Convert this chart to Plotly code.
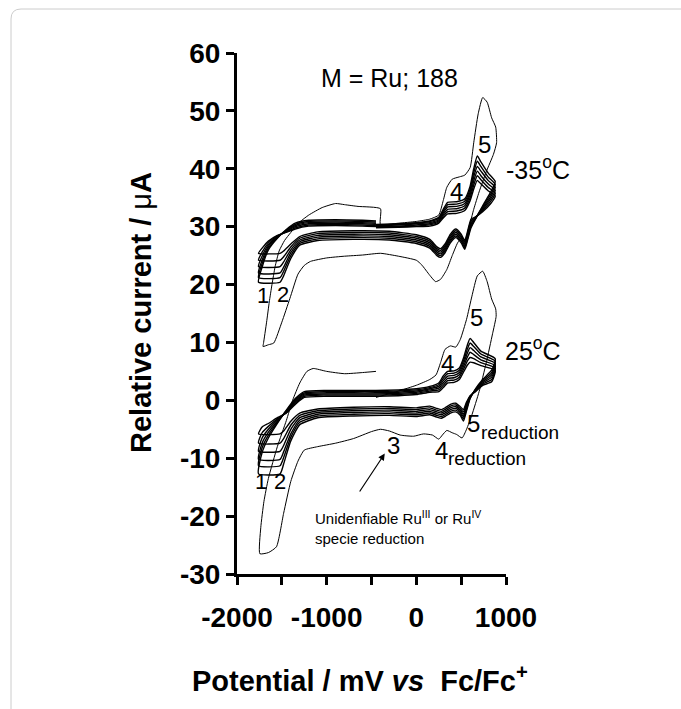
import plotly.graph_objects as go

# ---------------- data (potential in mV vs Fc/Fc+, current in uA) ----------------
# -35 C, first cycle (outermost loop)
E_C1_35 = [-400, -200, 0, 150, 250, 300, 340, 400, 480, 540, 600, 640, 690, 740, 790, 840, 885, 895,
           860, 780, 700, 640, 590, 550, 510, 460, 400, 340, 270, 215, 150, 60, 0, -200, -400, -600,
           -800, -1000, -1180, -1250, -1320, -1410, -1500, -1590, -1650, -1710,
           -1705, -1670, -1640, -1610, -1575, -1530, -1470, -1400, -1300, -1200, -1050, -900, -800,
           -650, -400, -400]
I_C1_35 = [30.4, 30.6, 30.9, 31.3, 32.0, 34.5, 36.8, 38.2, 38.6, 38.9, 40.2, 44.5, 49.5, 52.3, 51.5, 48.8, 47.2, 44.5,
           42.5, 39.5, 36.0, 33.0, 30.0, 27.6, 28.2, 27.2, 25.0, 22.6, 20.9, 20.5, 21.6, 23.4, 24.2, 24.9, 25.4, 25.1,
           24.9, 24.6, 24.0, 23.3, 21.8, 17.6, 13.5, 9.9, 9.6, 9.3,
           9.8, 13.5, 17.0, 20.0, 23.1, 25.8, 27.6, 29.0, 30.8, 32.0, 33.3, 34.0, 33.8,
           33.5, 33.1, 30.4]

# -35 C, following cycles (common potential grid)
E_BAND_35 = [-450, -200, 0, 150, 250, 300, 350, 450, 540, 600, 640, 680, 720, 800, 880,
             830, 740, 660, 610, 570, 540, 500, 440, 380, 320, 270, 230, 150, 0, -300, -700, -1100,
             -1300, -1400, -1480, -1520, -1760,
             -1720, -1650, -1550, -1450, -1350, -1200, -900, -600, -450]
I35_CYC2 = [30.4, 30.5, 30.7, 31.0, 31.6, 33.0, 34.2, 34.3, 34.8, 37.0, 40.0, 42.2, 41.2, 39.3, 37.8,
            36.0, 33.6, 31.3, 29.8, 27.6, 26.1, 27.2, 28.1, 27.2, 25.5, 24.7, 25.0, 26.3, 27.1, 27.7, 27.8, 27.6,
            26.8, 24.5, 21.5, 20.4, 20.4,
            23.0, 26.0, 28.0, 29.5, 30.6, 31.1, 31.2, 31.1, 31.0]
I35_CYC3 = [30.3, 30.4, 30.6, 30.9, 31.4, 32.7, 33.8, 33.9, 34.4, 36.5, 39.3, 41.3, 40.4, 38.6, 37.3,
            35.6, 33.4, 31.4, 30.1, 27.9, 26.4, 27.5, 28.4, 27.5, 25.8, 25.0, 25.3, 26.6, 27.4, 28.0, 28.1, 27.9,
            27.1, 25.0, 22.3, 21.2, 21.2,
            23.6, 26.3, 28.1, 29.4, 30.4, 30.9, 31.0, 30.9, 30.8]
I35_CYC4 = [30.2, 30.3, 30.5, 30.7, 31.2, 32.4, 33.4, 33.5, 34.0, 36.0, 38.6, 40.4, 39.6, 38.0, 36.8,
            35.2, 33.2, 31.5, 30.4, 28.2, 26.7, 27.8, 28.7, 27.8, 26.1, 25.3, 25.6, 26.9, 27.7, 28.3, 28.4, 28.2,
            27.4, 25.5, 23.0, 22.0, 22.0,
            24.2, 26.6, 28.2, 29.3, 30.2, 30.7, 30.8, 30.7, 30.6]
I35_CYC5 = [30.0, 30.1, 30.3, 30.5, 31.0, 32.1, 33.0, 33.1, 33.6, 35.5, 37.9, 39.6, 38.8, 37.4, 36.3,
            34.8, 33.0, 31.5, 30.7, 28.5, 27.0, 28.1, 29.0, 28.1, 26.4, 25.6, 25.9, 27.2, 28.0, 28.6, 28.7, 28.5,
            27.7, 26.0, 23.9, 23.1, 23.1,
            24.9, 26.9, 28.3, 29.2, 30.0, 30.5, 30.6, 30.5, 30.4]
I35_CYC6 = [29.9, 30.0, 30.1, 30.3, 30.8, 31.8, 32.6, 32.7, 33.2, 35.0, 37.2, 38.8, 38.1, 36.8, 35.8,
            34.4, 32.8, 31.6, 31.0, 28.8, 27.3, 28.4, 29.3, 28.4, 26.7, 25.9, 26.2, 27.5, 28.3, 28.9, 29.0, 28.8,
            28.0, 26.5, 24.8, 24.2, 24.2,
            25.6, 27.2, 28.4, 29.1, 29.8, 30.3, 30.4, 30.3, 30.2]
I35_CYC7 = [29.8, 29.9, 30.0, 30.1, 30.6, 31.5, 32.2, 32.3, 32.8, 34.5, 36.5, 38.0, 37.4, 36.2, 35.3,
            34.0, 32.6, 31.7, 31.3, 29.1, 27.6, 28.7, 29.6, 28.7, 27.0, 26.2, 26.5, 27.8, 28.6, 29.2, 29.3, 29.1,
            28.3, 27.0, 25.8, 25.4, 25.4,
            26.3, 27.5, 28.5, 29.0, 29.6, 30.1, 30.2, 30.1, 30.0]

# 25 C, first cycle (outermost loop)
E_C1_25 = [-450, -200, 0, 150, 220, 270, 320, 380, 440, 490, 560, 620, 680, 740, 790, 840, 885, 890,
           850, 780, 700, 620, 560, 510, 450, 400, 340, 290, 250, 180, 80, -30, -180, -300, -400, -500,
           -700, -900, -1100, -1250, -1320, -1400, -1480, -1560, -1650, -1745,
           -1735, -1700, -1650, -1550, -1450, -1380, -1300, -1220, -1150, -1000, -800, -600, -450]
I_C1_25 = [0.5, 1.6, 2.6, 3.6, 4.4, 6.5, 8.8, 9.4, 9.2, 10.5, 14.0, 18.0, 21.5, 22.3, 20.5, 17.5, 15.8, 14.5,
           11.5, 6.5, 1.5, -2.5, -5.0, -6.5, -5.9, -5.6, -5.2, -6.0, -6.7, -6.0, -5.8, -6.2, -6.0, -5.3, -5.0, -5.4,
           -6.6, -7.4, -8.0, -8.6, -10.5, -14.0, -19.5, -25.3, -26.3, -26.5,
           -22.0, -17.5, -13.5, -8.0, -3.5, 0.0, 3.0, 5.0, 5.5, 5.0, 4.6, 4.8, 5.0]

# 25 C, following cycles (common potential grid)
E_BAND_25 = [-450, -200, 0, 150, 250, 300, 350, 420, 480, 530, 570, 600, 640, 720, 880,
             840, 740, 660, 600, 560, 525, 490, 440, 380, 320, 280, 230, 150, 0, -300, -700, -1100,
             -1300, -1400, -1480, -1520, -1760,
             -1720, -1650, -1550, -1450, -1350, -1250, -1000, -700, -450]
I25_CYC2 = [1.7, 1.8, 2.0, 2.4, 3.0, 4.2, 5.0, 5.1, 5.6, 7.5, 9.6, 10.7, 10.0, 8.5, 7.2,
            5.2, 3.6, 2.0, 0.3, -1.8, -3.6, -2.6, -2.0, -2.2, -2.8, -3.1, -2.9, -2.5, -2.8, -2.6, -2.7, -3.0,
            -4.2, -7.0, -11.0, -12.7, -12.7,
            -9.0, -6.5, -4.0, -1.7, 0.3, 1.5, 1.7, 1.7, 1.7]
I25_CYC3 = [1.5, 1.6, 1.8, 2.2, 2.7, 3.8, 4.6, 4.7, 5.2, 7.0, 8.9, 9.9, 9.3, 8.0, 6.8,
            4.8, 3.4, 1.9, 0.4, -1.5, -3.2, -2.3, -1.7, -1.9, -2.5, -2.8, -2.6, -2.2, -2.5, -2.3, -2.4, -2.7,
            -3.8, -6.4, -9.9, -11.3, -11.3,
            -8.2, -6.0, -3.8, -1.8, 0.1, 1.3, 1.5, 1.5, 1.5]
I25_CYC4 = [1.3, 1.4, 1.6, 2.0, 2.4, 3.4, 4.2, 4.3, 4.8, 6.5, 8.2, 9.1, 8.6, 7.5, 6.4,
            4.4, 3.2, 1.8, 0.5, -1.2, -2.8, -2.0, -1.4, -1.6, -2.2, -2.5, -2.3, -1.9, -2.2, -2.0, -2.1, -2.4,
            -3.4, -5.8, -8.9, -10.2, -10.2,
            -7.4, -5.5, -3.6, -1.9, -0.1, 1.1, 1.3, 1.3, 1.3]
I25_CYC5 = [1.1, 1.2, 1.4, 1.8, 2.1, 3.0, 3.8, 3.9, 4.4, 6.0, 7.5, 8.3, 7.9, 7.0, 6.0,
            4.0, 3.0, 1.7, 0.6, -0.9, -2.4, -1.7, -1.1, -1.3, -1.9, -2.2, -2.0, -1.6, -1.9, -1.7, -1.8, -2.1,
            -3.0, -5.0, -7.8, -8.8, -8.8,
            -6.5, -5.0, -3.4, -2.0, -0.3, 0.9, 1.1, 1.1, 1.1]
I25_CYC6 = [0.9, 1.0, 1.2, 1.6, 1.8, 2.6, 3.4, 3.5, 4.0, 5.5, 6.8, 7.4, 7.2, 6.5, 5.6,
            3.6, 2.8, 1.6, 0.7, -0.6, -2.0, -1.4, -0.8, -1.0, -1.6, -1.9, -1.7, -1.3, -1.6, -1.4, -1.5, -1.8,
            -2.6, -4.3, -6.6, -7.4, -7.4,
            -5.6, -4.5, -3.2, -2.1, -0.5, 0.7, 0.9, 0.9, 0.9]
I25_CYC7 = [0.7, 0.8, 1.0, 1.4, 1.5, 2.2, 3.0, 3.1, 3.6, 5.0, 6.1, 6.6, 6.5, 6.0, 5.2,
            3.2, 2.6, 1.5, 0.8, -0.3, -1.6, -1.1, -0.5, -0.7, -1.3, -1.6, -1.4, -1.0, -1.3, -1.1, -1.2, -1.5,
            -2.2, -3.6, -5.3, -5.8, -5.8,
            -4.6, -4.0, -3.0, -2.2, -0.7, 0.5, 0.7, 0.7, 0.7]

X_RANGE = [-2000, 1000]
Y_RANGE = [-30, 60]
X_TICKS = [-2000, -1500, -1000, -500, 0, 500, 1000]
X_TICK_TEXT = ["-2000", "", "-1000", "", "0", "", "1000"]
Y_TICKS = [-30, -20, -10, 0, 10, 20, 30, 40, 50, 60]
Y_TICK_TEXT = ["-30", "-20", "-10", "0", "10", "20", "30", "40", "50", "60"]

# ---------------- figure ----------------
FONT = "Arial, Liberation Sans, Helvetica, sans-serif"
fig = go.Figure()

def add(x, y, w):
    fig.add_trace(go.Scatter(x=x, y=y, mode="lines",
                             line=dict(color="black", width=w, shape="spline", smoothing=0.5),
                             showlegend=False, hoverinfo="skip"))

for ys in [I35_CYC2, I35_CYC3, I35_CYC4, I35_CYC5, I35_CYC6, I35_CYC7]:
    add(E_BAND_35, ys, 1.4)
for ys in [I25_CYC2, I25_CYC3, I25_CYC4, I25_CYC5, I25_CYC6, I25_CYC7]:
    add(E_BAND_25, ys, 1.4)
add(E_C1_35, I_C1_35, 1.0)
add(E_C1_25, I_C1_25, 1.0)

L, R, T, B = 237, 175, 53, 135
W, H = 681, 709
PW, PH = W - L - R, H - T - B

def px(xp):
    return (xp - L) / PW

def py(yp):
    return (H - B - yp) / PH

def dx(v):  # data -> paper (x)
    return (v - X_RANGE[0]) / (X_RANGE[1] - X_RANGE[0])

def dy(v):  # data -> paper (y)
    return (v - Y_RANGE[0]) / (Y_RANGE[1] - Y_RANGE[0])

# light rounded frame around the figure
x0, y0, x1, y1, r = px(11), py(725), px(700), py(9), 10
frame = (f"M {x0},{y0} L {x0},{py(9 + r)} Q {x0},{y1} {px(11 + r)},{y1} L {x1},{y1}")
fig.add_shape(type="path", path=frame, xref="paper", yref="paper",
              line=dict(color="#cccccc", width=1), layer="below")

ann = []
def t(x, y, text, size, **kw):
    d = dict(x=dx(x), y=dy(y), text=text, showarrow=False, xref="paper", yref="paper",
             xanchor="center", yanchor="middle",
             font=dict(family=FONT, size=size, color="black"))
    d.update(kw)
    ann.append(d)

t(-302, 55.6, "M = Ru; 188", 25)
t(1356, 40.2, "-35<sup>o</sup>C", 25)
t(1296, 8.9, "25<sup>o</sup>C", 25)
t(764, 44.2, "5", 24)
t(447, 36.0, "4", 24)
t(667, 14.3, "5", 24)
t(351, 6.4, "4", 24)
t(-257, -7.8, "3", 24)
t(642, -4.0, "5", 24)
t(1152, -5.6, "reduction", 19)
t(279, -8.6, "4", 24)
t(788, -10.1, "reduction", 19)
t(-1710, 18.1, "1", 22)
t(-1483, 18.2, "2", 22)
t(-1736, -14.1, "1", 22)
t(-1517, -14.1, "2", 22)
t(-1151, -18.3, "Unidenfiable Ru<sup>III</sup> or Ru<sup>IV</sup><br>specie reduction", 15,
  xanchor="left", yanchor="top", align="left")
ann.append(dict(x=-352, y=-9.2, ax=-643, ay=-16.0, xref="x", yref="y", axref="x", ayref="y",
                showarrow=True, arrowhead=2, arrowsize=1.1, arrowwidth=1.2, arrowcolor="black", text=""))
# axis titles
ann.append(dict(x=px(141), y=py(313), xref="paper", yref="paper", showarrow=False, textangle=-90,
                xanchor="center", yanchor="middle",
                text="<b>Relative current / </b>μ<b>A</b>",
                font=dict(family=FONT, size=29, color="black")))
ann.append(dict(x=px(360), y=py(679), xref="paper", yref="paper", showarrow=False,
                xanchor="center", yanchor="middle",
                text="<b>Potential / mV <i>vs</i>  Fc/Fc<sup>+</sup></b>",
                font=dict(family=FONT, size=29, color="black")))

fig.update_layout(
    width=W, height=H, margin=dict(l=L, r=R, t=T, b=B, autoexpand=False),
    paper_bgcolor="white", plot_bgcolor="white",
    annotations=ann,
    xaxis=dict(range=X_RANGE, tickvals=X_TICKS, ticktext=X_TICK_TEXT, automargin=False,
               showline=True, linecolor="black", linewidth=3, ticks="outside", ticklen=8,
               tickwidth=3, tickcolor="black", showgrid=False, zeroline=False,
               tickfont=dict(family=FONT, size=28, color="black", weight="bold"),
               ticklabelstandoff=8),
    yaxis=dict(range=Y_RANGE, tickvals=Y_TICKS, ticktext=Y_TICK_TEXT, automargin=False,
               showline=True, linecolor="black", linewidth=3, ticks="outside", ticklen=8,
               tickwidth=3, tickcolor="black", showgrid=False, zeroline=False,
               tickfont=dict(family=FONT, size=28, color="black", weight="bold")),
)

fig.write_html("out.html", config={"displayModeBar": False},
               post_script="document.body.style.margin='0';")
